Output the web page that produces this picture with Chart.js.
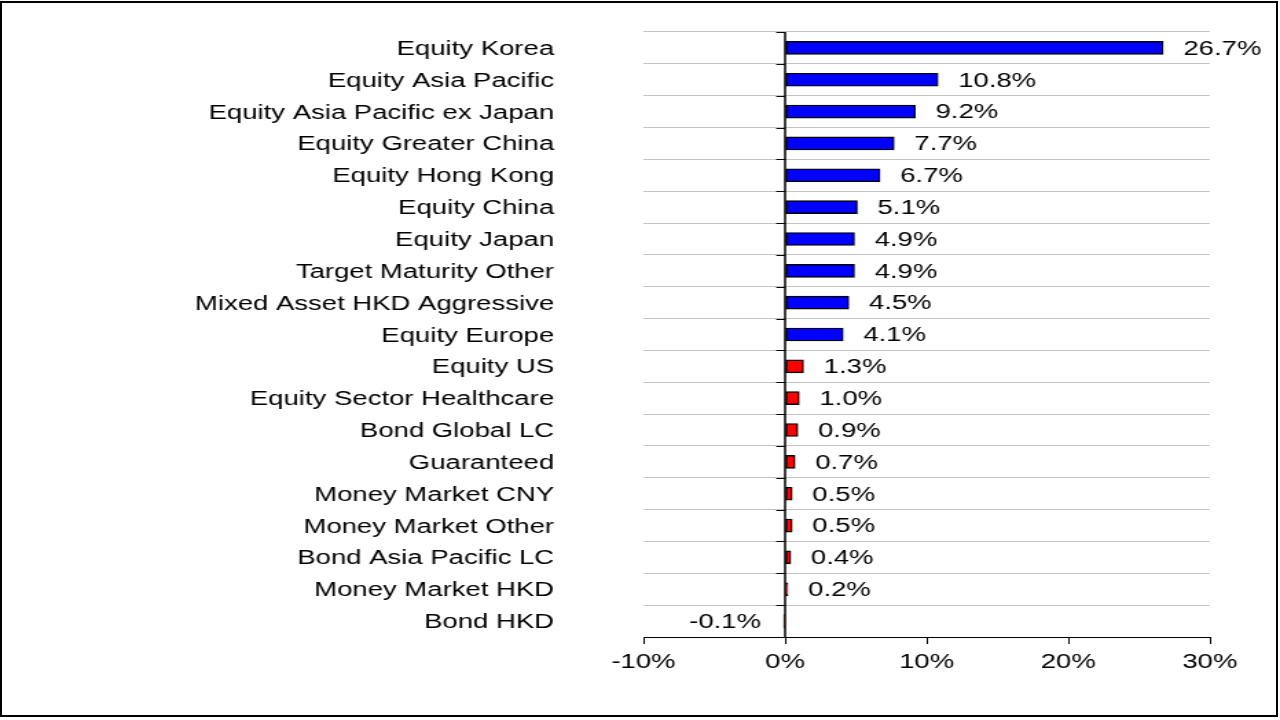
<!DOCTYPE html>
<html>
<head>
<meta charset="utf-8">
<script src="https://cdn.jsdelivr.net/npm/chart.js@4/dist/chart.umd.min.js"></script>
<style>
  html, body { margin: 0; padding: 0; background: #fff; width: 1280px; height: 720px; overflow: hidden; }
  #frame { position: absolute; left: 0; top: 1px; width: 1278px; height: 716px; border: 2px solid #000; box-sizing: border-box; pointer-events: none; }
  #c { position: absolute; left: 0; top: 0; transform-origin: 0 0; transform: scaleX(1.37487); }
</style>
</head>
<body>
<canvas id="c" width="931" height="720"></canvas>
<div id="frame"></div>
<script>
const categories = [
  'Equity Korea', 'Equity Asia Pacific', 'Equity Asia Pacific ex Japan', 'Equity Greater China',
  'Equity Hong Kong', 'Equity China', 'Equity Japan', 'Target Maturity Other',
  'Mixed Asset HKD Aggressive', 'Equity Europe', 'Equity US', 'Equity Sector Healthcare',
  'Bond Global LC', 'Guaranteed', 'Money Market CNY', 'Money Market Other',
  'Bond Asia Pacific LC', 'Money Market HKD', 'Bond HKD'
];
const values = [26.7, 10.8, 9.2, 7.7, 6.7, 5.1, 4.9, 4.9, 4.5, 4.1, 1.3, 1.0, 0.9, 0.7, 0.5, 0.5, 0.4, 0.2, -0.1];
const barColors = [
  '#0000FF', '#0000FF', '#0000FF', '#0000FF', '#0000FF', '#0000FF', '#0000FF', '#0000FF', '#0000FF', '#0000FF',
  '#FF0000', '#FF0000', '#FF0000', '#FF0000', '#FF0000', '#FF0000', '#FF0000', '#FF0000', '#FF0000'
];
const xTicks = [-10, 0, 10, 20, 30];

const FONT = '"Liberation Sans", Arial, sans-serif';

const zeroAxisAndLabels = {
  id: 'zeroAxisAndLabels',
  afterDatasetsDraw(chart) {
    const { ctx, chartArea, scales: { x, y } } = chart;
    const x0 = x.getPixelForValue(0);
    ctx.save();
    ctx.strokeStyle = '#000';
    ctx.lineWidth = 1.5;
    ctx.beginPath();
    ctx.moveTo(x0, chartArea.top);
    ctx.lineTo(x0, chartArea.bottom);
    ctx.stroke();
    ctx.lineWidth = 1;
    ctx.beginPath();
    const half = (y.getPixelForValue(1) - y.getPixelForValue(0)) / 2;
    for (let i = 0; i < categories.length; i++) {
      const yy = Math.round(y.getPixelForValue(i) - half) + 0.5;
      ctx.moveTo(x0 - 6.4, yy);
      ctx.lineTo(x0, yy);
    }
    ctx.stroke();

    const meta = chart.getDatasetMeta(0);
    ctx.font = '20px ' + FONT;
    ctx.fillStyle = '#000';
    ctx.textBaseline = 'middle';
    meta.data.forEach((bar, i) => {
      const v = values[i];
      const txt = v.toFixed(1) + '%';
      if (v >= 0) {
        ctx.textAlign = 'left';
        ctx.fillText(txt, bar.x + 14.7, bar.y + 1.3);
      } else {
        ctx.textAlign = 'right';
        ctx.fillText(txt, bar.x - 16.5, bar.y + 1.3);
      }
    });
    ctx.restore();
  }
};

new Chart(document.getElementById('c'), {
  type: 'bar',
  data: {
    labels: categories,
    datasets: [{
      data: values,
      backgroundColor: barColors,
      borderColor: '#000',
      borderWidth: 1.4,
      borderSkipped: false,
      barThickness: 13
    }]
  },
  options: {
    indexAxis: 'y',
    responsive: false,
    animation: false,
    devicePixelRatio: 1,
    layout: { padding: { top: 32, right: 51, bottom: 0, left: 0 } },
    plugins: { legend: { display: false }, tooltip: { enabled: false } },
    scales: {
      x: {
        type: 'linear',
        min: -10,
        max: 30,
        afterBuildTicks(scale) { scale.ticks = xTicks.map(v => ({ value: v })); },
        afterFit(scale) { scale.height = 83; scale.paddingLeft = 0; scale.paddingRight = 0; },
        grid: { drawOnChartArea: false, drawTicks: true, tickLength: 7, color: '#000', lineWidth: 1 },
        border: { display: true, color: '#000', width: 1, z: 1 },
        ticks: {
          padding: 6,
          color: '#000',
          font: { family: FONT, size: 20 },
          maxRotation: 0,
          callback: v => v + '%'
        }
      },
      y: {
        type: 'category',
        afterFit(scale) { scale.width = 468; scale.paddingTop = 0; scale.paddingBottom = 0; },
        grid: { offset: true, drawTicks: false, color: '#c4c4c4', lineWidth: 1 },
        border: { display: false },
        ticks: {
          padding: 65,
          labelOffset: 1.5,
          color: '#000',
          font: { family: FONT, size: 20 },
          autoSkip: false
        }
      }
    }
  },
  plugins: [zeroAxisAndLabels]
});
</script>
</body>
</html>
